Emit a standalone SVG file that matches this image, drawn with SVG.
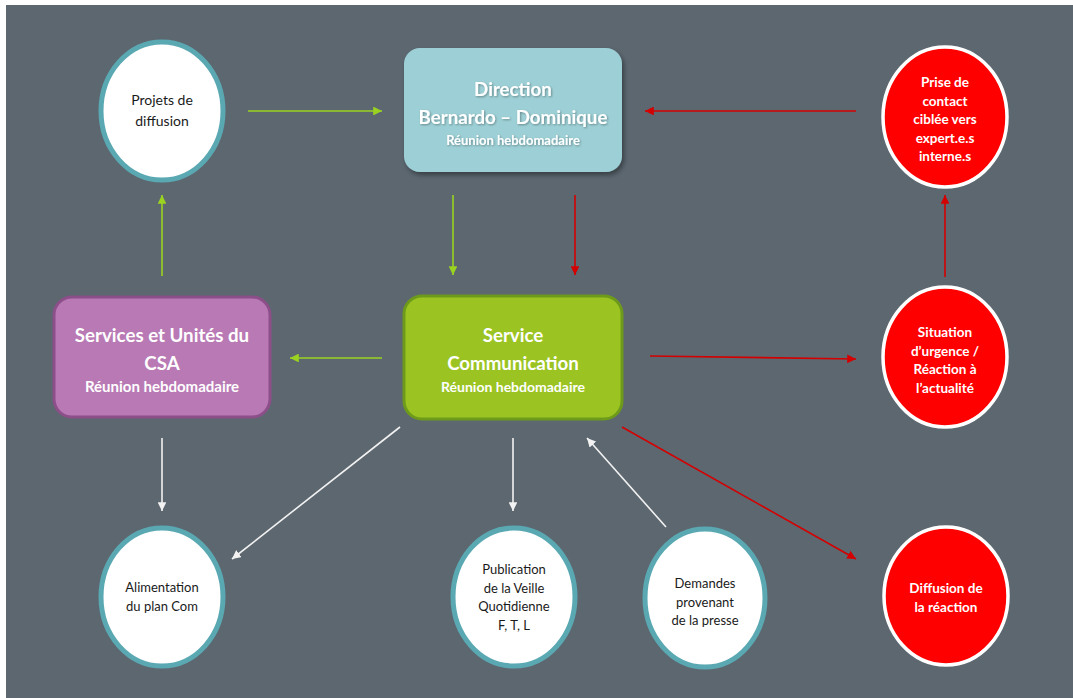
<svg xmlns="http://www.w3.org/2000/svg" width="1073" height="698" viewBox="0 0 1073 698">
<style>
  .t { font-family: Lato, "Open Sans", "Liberation Sans", sans-serif; text-anchor: middle; }
  .dark { fill: #1a1a1a; font-size: 14px; }
  .wb { fill: #ffffff; font-weight: bold; font-size: 13.5px; }
  .title { fill: #ffffff; font-weight: bold; font-size: 18.7px; }
  .sub { fill: #ffffff; font-weight: bold; font-size: 14px; }
  .wcirc { fill: #ffffff; stroke: #5aa8b2; stroke-width: 5; }
  .rcirc { fill: #ff0000; stroke: #ffffff; stroke-width: 3.5; }
  .g { stroke: #9ad320; stroke-width: 1.6; fill: none; }
  .r { stroke: #d40000; stroke-width: 1.6; fill: none; }
  .w { stroke: #f2f2f2; stroke-width: 1.6; fill: none; }
</style>
<defs>
  <marker id="ag" viewBox="0 0 10 10" refX="10" refY="5" markerWidth="5.5" markerHeight="5.5" orient="auto" markerUnits="strokeWidth"><path d="M0,0 L10,5 L0,10 z" fill="#9ad320"/></marker>
  <marker id="ar" viewBox="0 0 10 10" refX="10" refY="5" markerWidth="5.5" markerHeight="5.5" orient="auto" markerUnits="strokeWidth"><path d="M0,0 L10,5 L0,10 z" fill="#d40000"/></marker>
  <marker id="aw" viewBox="0 0 10 10" refX="10" refY="5" markerWidth="5.5" markerHeight="5.5" orient="auto" markerUnits="strokeWidth"><path d="M0,0 L10,5 L0,10 z" fill="#f2f2f2"/></marker>
  <filter id="sh" x="-10%" y="-10%" width="125%" height="130%"><feDropShadow dx="2" dy="3" stdDeviation="2.5" flood-color="#000" flood-opacity="0.4"/></filter>
  <filter id="ts" x="-5%" y="-20%" width="110%" height="150%"><feDropShadow dx="1" dy="1" stdDeviation="0.8" flood-color="#000" flood-opacity="0.35"/></filter>
</defs>
<rect x="0" y="0" width="1073" height="698" fill="#ffffff"/>
<rect x="6" y="5" width="1067" height="693" fill="#5c6770"/>

<g id="connectors">
  <line class="g" x1="248" y1="111" x2="382" y2="111" marker-end="url(#ag)"/>
  <line class="g" x1="162" y1="276" x2="162" y2="195" marker-end="url(#ag)"/>
  <line class="g" x1="453" y1="195" x2="453" y2="275" marker-end="url(#ag)"/>
  <line class="g" x1="382" y1="358" x2="290" y2="358" marker-end="url(#ag)"/>
  <line class="r" x1="575" y1="195" x2="575" y2="275" marker-end="url(#ar)"/>
  <line class="r" x1="856" y1="111" x2="645" y2="111" marker-end="url(#ar)"/>
  <line class="r" x1="945" y1="277" x2="945" y2="195" marker-end="url(#ar)"/>
  <line class="r" x1="650" y1="356" x2="856" y2="359" marker-end="url(#ar)"/>
  <line class="r" x1="622" y1="427" x2="856" y2="559" marker-end="url(#ar)"/>
  <line class="w" x1="162" y1="438" x2="162" y2="511" marker-end="url(#aw)"/>
  <line class="w" x1="400" y1="427" x2="232" y2="559" marker-end="url(#aw)"/>
  <line class="w" x1="513" y1="438" x2="513" y2="511" marker-end="url(#aw)"/>
  <line class="w" x1="666" y1="527" x2="587" y2="438" marker-end="url(#aw)"/>
</g>

<g id="projets">
  <ellipse class="wcirc" cx="162" cy="111" rx="61" ry="69"/>
  <text class="t dark" x="162" y="105">Projets de</text>
  <text class="t dark" x="162" y="126">diffusion</text>
</g>

<g id="direction">
  <rect x="404" y="48" width="218" height="124" rx="16" fill="#9dd0d6" filter="url(#sh)"/>
  <g filter="url(#ts)">
    <text class="t title" x="513" y="96">Direction</text>
    <text class="t title" x="513" y="124">Bernardo – Dominique</text>
    <text class="t sub" x="513" y="145" style="font-size:13px">Réunion hebdomadaire</text>
  </g>
</g>

<g id="prise">
  <ellipse class="rcirc" cx="945" cy="117" rx="62" ry="70"/>
  <text class="t wb" x="945" y="87">Prise de</text>
  <text class="t wb" x="945" y="105.5">contact</text>
  <text class="t wb" x="945" y="124">ciblée vers</text>
  <text class="t wb" x="945" y="142.5">expert.e.s</text>
  <text class="t wb" x="945" y="161">interne.s</text>
</g>

<g id="services">
  <rect x="54" y="297" width="216" height="120" rx="18" fill="#b879b4" stroke="#8c4f89" stroke-width="3"/>
  <text class="t title" x="162" y="342">Services et Unités du</text>
  <text class="t title" x="162" y="370">CSA</text>
  <text class="t sub" x="162" y="392" style="font-size:15px">Réunion hebdomadaire</text>
</g>

<g id="communication">
  <rect x="404" y="296" width="218" height="123" rx="18" fill="#9bc423" stroke="#6e9a1c" stroke-width="3"/>
  <text class="t title" x="513" y="342">Service</text>
  <text class="t title" x="513" y="370">Communication</text>
  <text class="t sub" x="513" y="392">Réunion hebdomadaire</text>
</g>

<g id="situation">
  <ellipse class="rcirc" cx="945" cy="357" rx="62" ry="70"/>
  <text class="t wb" x="945" y="337">Situation</text>
  <text class="t wb" x="945" y="355.5">d’urgence /</text>
  <text class="t wb" x="945" y="374">Réaction à</text>
  <text class="t wb" x="945" y="392.5">l’actualité</text>
</g>

<g id="alimentation">
  <ellipse class="wcirc" cx="162" cy="597" rx="61" ry="69"/>
  <text class="t dark" x="162" y="592" style="font-size:13px">Alimentation</text>
  <text class="t dark" x="162" y="611" style="font-size:13px">du plan Com</text>
</g>

<g id="publication">
  <ellipse class="wcirc" cx="514" cy="597" rx="61" ry="69"/>
  <text class="t dark" x="514" y="574" style="font-size:13px">Publication</text>
  <text class="t dark" x="514" y="593" style="font-size:13px">de la Veille</text>
  <text class="t dark" x="514" y="611" style="font-size:13px">Quotidienne</text>
  <text class="t dark" x="514" y="630" style="font-size:13px">F, T, L</text>
</g>

<g id="demandes">
  <ellipse class="wcirc" cx="705" cy="598" rx="60" ry="69"/>
  <text class="t dark" x="705" y="588" style="font-size:13px">Demandes</text>
  <text class="t dark" x="705" y="607" style="font-size:13px">provenant</text>
  <text class="t dark" x="705" y="625" style="font-size:13px">de la presse</text>
</g>

<g id="diffusion">
  <ellipse class="rcirc" cx="946" cy="596" rx="62" ry="69"/>
  <text class="t wb" x="946" y="593">Diffusion de</text>
  <text class="t wb" x="946" y="612">la réaction</text>
</g>
</svg>
